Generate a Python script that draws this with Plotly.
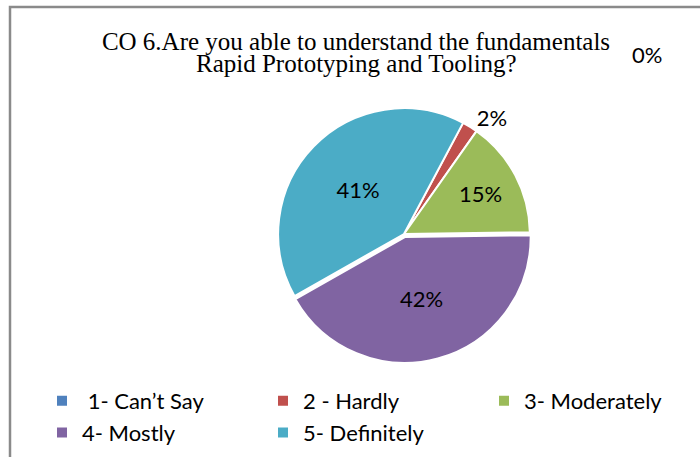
import plotly.graph_objects as go

categories = ["1- Can\u2019t Say", "2 - Hardly", "3- Moderately", "4- Mostly", "5- Definitely"]
values = [0, 2, 15, 42, 41]
colors = ["#4F81BD", "#C0504D", "#9BBB59", "#8064A2", "#4BACC6"]
title_line1 = "CO 6.Are you able to understand the fundamentals"
title_line2 = "Rapid Prototyping and Tooling?"

W, H = 700, 457
total = sum(values)

fig = go.Figure()
fig.add_trace(go.Pie(
    labels=[" " + c if i == 0 else c for i, c in enumerate(categories)],
    values=values,
    marker=dict(colors=colors, line=dict(color="white", width=2)),
    sort=False,
    direction="clockwise",
    rotation=28,
    pull=[0, 0, 0, 0.025, 0],
    texttemplate="%{percent:.0%}",
    textposition=["none" if v == 0 else ("outside" if v / total < 0.05 else "inside") for v in values],
    insidetextorientation="horizontal",
    textfont=dict(family="Lato", size=22, color="black"),
    domain=dict(x=[(404 - 129) / W, (404 + 129) / W], y=[1 - (234 + 129) / H, 1 - (234 - 129) / H]),
    showlegend=True,
    hoverinfo="label+percent",
))

# label for zero-valued slice (plotly does not draw zero slices)
fig.add_annotation(
    x=647 / W, y=1 - 54 / H, xref="paper", yref="paper",
    xanchor="center", yanchor="middle",
    text=f"{round(values[0] / total * 100)}%", showarrow=False,
    font=dict(family="Lato", size=22, color="black"),
)
# second line of the chart title
fig.add_annotation(
    x=356 / W, y=1 - 63 / H, xref="paper", yref="paper",
    xanchor="center", yanchor="middle",
    text=title_line2, showarrow=False,
    font=dict(family="Liberation Serif", size=25, color="black"),
)

fig.update_layout(
    width=W, height=H,
    margin=dict(l=0, r=0, t=0, b=0, autoexpand=False),
    paper_bgcolor="white",
    plot_bgcolor="white",
    title=dict(
        text=title_line1,
        x=356 / W, xanchor="center",
        y=1 - 41 / H, yanchor="middle",
        font=dict(family="Liberation Serif", size=25, color="black"),
    ),
    legend=dict(
        orientation="h",
        x=42 / W, xanchor="left",
        y=1 - 380 / H, yanchor="top",
        entrywidth=176,
        font=dict(family="Lato", size=22, color="black"),
        traceorder="normal",
    ),
    shapes=[dict(
        type="rect", xref="paper", yref="paper",
        x0=10 / W, y0=1 - 7 / H, x1=1.02, y1=-0.02,
        line=dict(color="#8a8a8a", width=2.5),
        fillcolor="rgba(0,0,0,0)",
    )],
)

fig.write_html("out.html", config={"displayModeBar": False},
               post_script="document.body.style.margin='0';")
